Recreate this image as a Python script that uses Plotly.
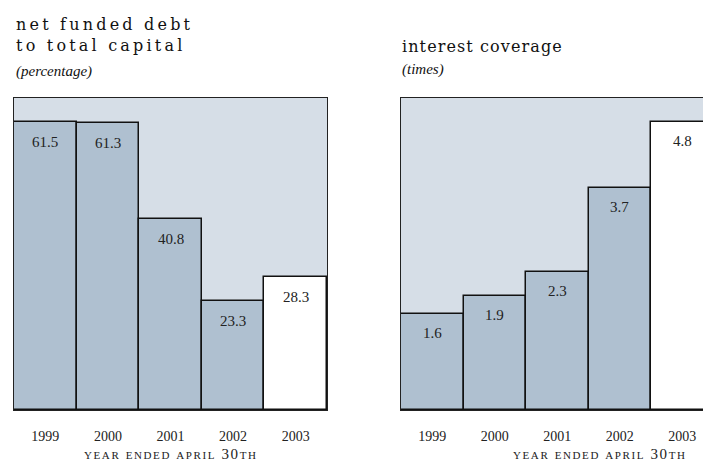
import plotly.graph_objects as go
from plotly.subplots import make_subplots

years = ["1999", "2000", "2001", "2002", "2003"]
debt_values = [61.5, 61.3, 40.8, 23.3, 28.3]
debt_labels = ["61.5", "61.3", "40.8", "23.3", "28.3"]
coverage_values = [1.6, 1.9, 2.3, 3.7, 4.8]
coverage_labels = ["1.6", "1.9", "2.3", "3.7", "4.8"]

W, H = 703, 468
BAR = "#afc0d0"
PANEL = "#d6dee7"
bar_colors = [BAR, BAR, BAR, BAR, "#ffffff"]

def px_x(p):
    return p / W

def px_y(p):
    return 1 - p / H

fig = make_subplots(rows=1, cols=2)

fig.add_trace(go.Bar(x=years, y=debt_values, marker=dict(color=bar_colors, line=dict(color="#111111", width=1.5)),
                     width=1.0, hoverinfo="skip"), row=1, col=1)
fig.add_trace(go.Bar(x=years, y=coverage_values, marker=dict(color=bar_colors, line=dict(color="#111111", width=1.5)),
                     width=1.0, hoverinfo="skip"), row=1, col=2)

tickfont = dict(family="Liberation Serif", size=14, color="#222222")
common_x = dict(type="category", showgrid=False, zeroline=False, showline=True, linecolor="#222222",
                linewidth=1.2, mirror=True, ticks="", tickfont=tickfont, ticklabelstandoff=13, fixedrange=True)
fig.update_xaxes(**common_x)
fig.update_xaxes(domain=[px_x(14), px_x(327)], range=[-0.5, 4.5], row=1, col=1)
fig.update_xaxes(domain=[px_x(401), 1.0], range=[-0.5, 4.332], row=1, col=2)

common_y = dict(showgrid=False, zeroline=False, showticklabels=False, ticks="", showline=True,
                linecolor="#222222", linewidth=1.2, fixedrange=True)
fig.update_yaxes(**common_y)
fig.update_yaxes(domain=[px_y(410), px_y(98)], range=[0, 66.6], mirror=True, row=1, col=1)
fig.update_yaxes(domain=[px_y(410), px_y(98)], range=[0, 5.2], mirror=False, row=1, col=2)

annotations = []
labfont = dict(family="Liberation Serif", size=15, color="#222222")
for i, (v, t) in enumerate(zip(debt_values, debt_labels)):
    annotations.append(dict(x=i, y=v, xref="x", yref="y", text=t, showarrow=False,
                            yanchor="middle", yshift=-20, font=labfont))
for i, (v, t) in enumerate(zip(coverage_values, coverage_labels)):
    annotations.append(dict(x=i, y=v, xref="x2", yref="y2", text=t, showarrow=False,
                            yanchor="middle", yshift=-19, font=labfont))

titlefont = dict(family="DejaVu Serif", size=16, color="#111111")
subfont = dict(family="Liberation Serif", size=15, color="#111111", style="italic")
LS = "letter-spacing:3.2px"
annotations += [
    dict(x=px_x(14), y=px_y(35), xref="paper", yref="paper", xanchor="left", yanchor="middle", align="left",
         text=f'<span style="{LS}">net funded debt</span><br><span style="{LS}">to total capital</span>',
         showarrow=False, font=titlefont),
    dict(x=px_x(14), y=px_y(71.5), xref="paper", yref="paper", xanchor="left", yanchor="middle",
         text="(percentage)", showarrow=False, font=subfont),
    dict(x=px_x(400), y=px_y(47), xref="paper", yref="paper", xanchor="left", yanchor="middle",
         text='<span style="letter-spacing:1.1px">interest coverage</span>', showarrow=False, font=titlefont),
    dict(x=px_x(400), y=px_y(69.5), xref="paper", yref="paper", xanchor="left", yanchor="middle",
         text="(times)", showarrow=False, font=subfont),
]
axfont = dict(family="Liberation Serif", size=15, color="#222222", variant="small-caps")
annotations += [
    dict(x=px_x(171), y=px_y(454), xref="paper", yref="paper", xanchor="center", yanchor="middle",
         text='<span style="letter-spacing:1.6px">year ended april 30th</span>', showarrow=False, font=axfont),
    dict(x=px_x(600), y=px_y(454), xref="paper", yref="paper", xanchor="center", yanchor="middle",
         text='<span style="letter-spacing:1.6px">year ended april 30th</span>', showarrow=False, font=axfont),
]

fig.update_layout(width=W, height=H, margin=dict(l=0, r=0, t=0, b=0), showlegend=False,
                  plot_bgcolor=PANEL, paper_bgcolor="#ffffff", bargap=0, annotations=annotations)

fig.write_html("out.html")
